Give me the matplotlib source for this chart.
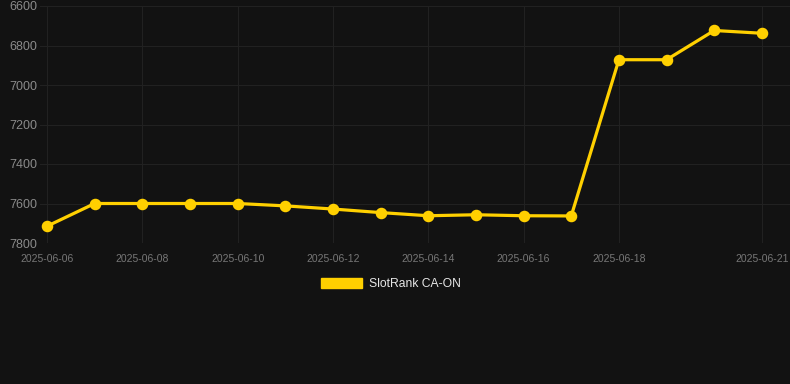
import datetime
import matplotlib
matplotlib.use('Agg')
import matplotlib.pyplot as plt
import matplotlib.dates as mdates
from matplotlib.patches import Patch

# データ
dates = [datetime.date(2025, 6, d) for d in range(6, 22)]
ranks = [7715, 7600, 7600, 7600, 7600, 7612, 7628, 7646, 7662, 7657,
         7662, 7663, 6872, 6872, 6724, 6738]
tick_dates = [datetime.date(2025, 6, d) for d in (6, 8, 10, 12, 14, 16, 18, 21)]
y_ticks = [6600, 6800, 7000, 7200, 7400, 7600, 7800]
series_name = 'SlotRank CA-ON'

bg = '#121212'
gold = '#ffd000'
grid_c = '#212121'

plt.rcParams['font.family'] = ['Liberation Sans', 'DejaVu Sans']

fig = plt.figure(figsize=(7.9, 3.84), dpi=100, facecolor=bg)
ax = fig.add_axes([40 / 790, 1 - 243 / 384, 750 / 790, 237 / 384], facecolor=bg)

x = mdates.date2num(dates)
ax.plot(x, ranks, color=gold, lw=2.3, marker='o', ms=7.3, zorder=3, clip_on=False)

ax.set_ylim(7800, 6600)
ax.set_yticks(y_ticks)
ax.set_yticklabels([str(v) for v in y_ticks])
ax.set_xticks(mdates.date2num(tick_dates))
ax.set_xticklabels([d.strftime('%Y-%m-%d') for d in tick_dates])
x0 = mdates.date2num(dates[0])
ax.set_xlim(x0 - 0.147, x0 + 15.59)

ax.grid(True, color=grid_c, lw=0.8)
ax.set_axisbelow(True)
for s in ax.spines.values():
    s.set_visible(False)
ax.tick_params(axis='y', length=0, pad=2, labelsize=9, labelcolor='#8a8a8a')
ax.tick_params(axis='x', length=0, pad=8, labelsize=7.5, labelcolor='#777777')

handle = Patch(facecolor=gold, edgecolor=gold)
leg = fig.legend([handle], [series_name], loc='center', bbox_to_anchor=(0.495, 1 - 284 / 384),
                 frameon=False, fontsize=8.7, handlelength=3.4, handleheight=0.95,
                 handletextpad=0.55)
for t in leg.get_texts():
    t.set_color('#e6e6e6')

fig.savefig('out.png', dpi=100, facecolor=bg)
